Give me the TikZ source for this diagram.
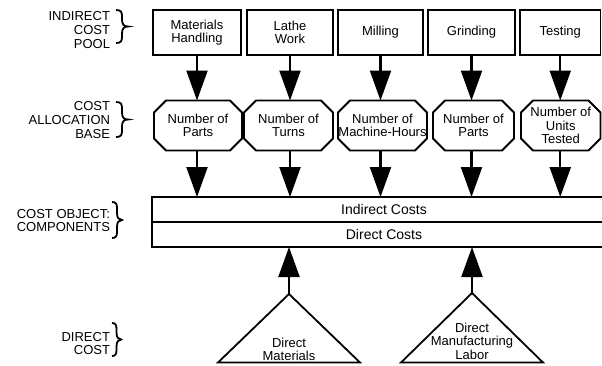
\documentclass[tikz,border=0pt]{standalone}
\usepackage{fontspec}
\setmainfont{Liberation Sans}
\usetikzlibrary{arrows.meta}
\newcommand\lblfont{\fontsize{13}{13.6}\selectfont}
\newcommand\barfont{\fontsize{14}{15}\selectfont}
\newcommand\octagonof[1]{%
  \draw[shp] ([xshift=12pt]#1.north west) -- ([xshift=-12pt]#1.north east)
    -- ([yshift=-12pt]#1.north east) -- ([yshift=12pt]#1.south east)
    -- ([xshift=-12pt]#1.south east) -- ([xshift=12pt]#1.south west)
    -- ([yshift=12pt]#1.south west) -- ([yshift=-12pt]#1.north west) -- cycle;}
% brace: #1 = x, #2 = top y, #3 = bottom y, #4 = width
\newcommand\bracedraw[4]{%
  \pgfmathsetmacro\bmid{(#2+#3)/2}%
  \pgfmathsetmacro\barm{#1+#4*0.5}%
  \pgfmathsetmacro\btip{#1+#4}%
  \draw[brc] (#1,#2) .. controls (\barm-1,#2) and (\barm,#2+2) .. (\barm,#2+6)
    -- (\barm,\bmid-7) .. controls (\barm,\bmid-2) and (\barm+2,\bmid) .. (\btip,\bmid)
    .. controls (\barm+2,\bmid) and (\barm,\bmid+2) .. (\barm,\bmid+7)
    -- (\barm,#3-6) .. controls (\barm,#3-2) and (\barm-1,#3) .. (#1,#3);}
\tikzset{
  shp/.style={line width=1.8pt, line join=miter},
  box/.style={draw, line width=1.8pt, rectangle, inner sep=0pt, outer sep=0pt, align=center, font=\lblfont},
  octa/.style={rectangle, inner sep=0pt, outer sep=0pt, align=center, font=\lblfont, minimum height=50pt},
  txt/.style={inner sep=0pt, outer sep=0pt, align=center, font=\lblfont},
  lab/.style={inner sep=0pt, outer sep=0pt, align=right, anchor=east, font=\lblfont},
  arr/.style={line width=2.2pt, -{Triangle[length=30pt,width=21pt]}},
  brc/.style={line width=1.8pt, line cap=butt},
}
\begin{document}
\begin{tikzpicture}[x=1pt,y=-1pt]
\useasboundingbox (0,0) rectangle (602,365);
\clip (0,0) rectangle (602,365);
% top boxes
\node[box, minimum width=88pt, minimum height=45pt] (b1) at (197,32.5) {Materials\\Handling};
\node[box, minimum width=86pt, minimum height=45pt] (b2) at (290,32.5) {Lathe\\Work};
\node[box, minimum width=85pt, minimum height=45pt] (b3) at (380.5,32.5) {Milling};
\node[box, minimum width=87pt, minimum height=45pt] (b4) at (471.5,32.5) {Grinding};
\node[box, minimum width=80.5pt, minimum height=45pt] (b5) at (560.25,32.5) {Testing};
% octagons
\node[octa, minimum width=88pt] (o1) at (198,125.5) {Number of\\Parts};
\node[octa, minimum width=89pt] (o2) at (288.5,125.5) {Number of\\Turns};
\node[octa, minimum width=89pt] (o3) at (382.5,125.5) {Number of\\Machine-Hours};
\node[octa, minimum width=81pt] (o4) at (473.5,125.5) {Number of\\Parts};
\node[octa, minimum width=79.5pt] (o5) at (560.75,125.5) {Number of\\Units\\Tested};
\octagonof{o1}\octagonof{o2}\octagonof{o3}\octagonof{o4}\octagonof{o5}
% cost object bar
\node[box, font=\barfont, minimum width=464pt, minimum height=25pt] (ind) at (384,209.5) {Indirect Costs};
\node[box, font=\barfont, minimum width=464pt, minimum height=25pt] (dir) at (384,234.5) {Direct Costs};
% triangles
\coordinate (t1) at (289,294);
\coordinate (t2) at (472,293);
\draw[shp] (t1) -- (218,362.5) -- (360,362.5) -- cycle;
\draw[shp] (t2) -- (401,362.5) -- (543,362.5) -- cycle;
\node[txt] (m1) at (289,349.5) {Direct\\Materials};
\node[txt] (m2) at (472,341) {Direct\\Manufacturing\\Labor};
% arrows
\foreach \i in {1,...,5}{
  \draw[arr] (b\i.south) -- (b\i.south |- o\i.north);
  \draw[arr] (b\i.south |- o\i.south) -- (b\i.south |- ind.north);
}
\draw[arr] (t1) -- (t1 |- dir.south);
\draw[arr] (t2) -- (t2 |- dir.south);
% left labels
\node[lab] (l1) at (110,30) {INDIRECT\\COST\\POOL};
\node[lab] (l2) at (110,120) {COST\\ALLOCATION\\BASE};
\node[lab] (l3) at (110,220.5) {COST OBJECT:\\COMPONENTS};
\node[lab] (l4) at (110,343.5) {DIRECT\\COST};
\bracedraw{116}{10}{43}{12}
\bracedraw{116}{102}{137}{12}
\bracedraw{112}{202}{238}{10}
\bracedraw{112}{323}{356}{9}
\end{tikzpicture}
\end{document}
